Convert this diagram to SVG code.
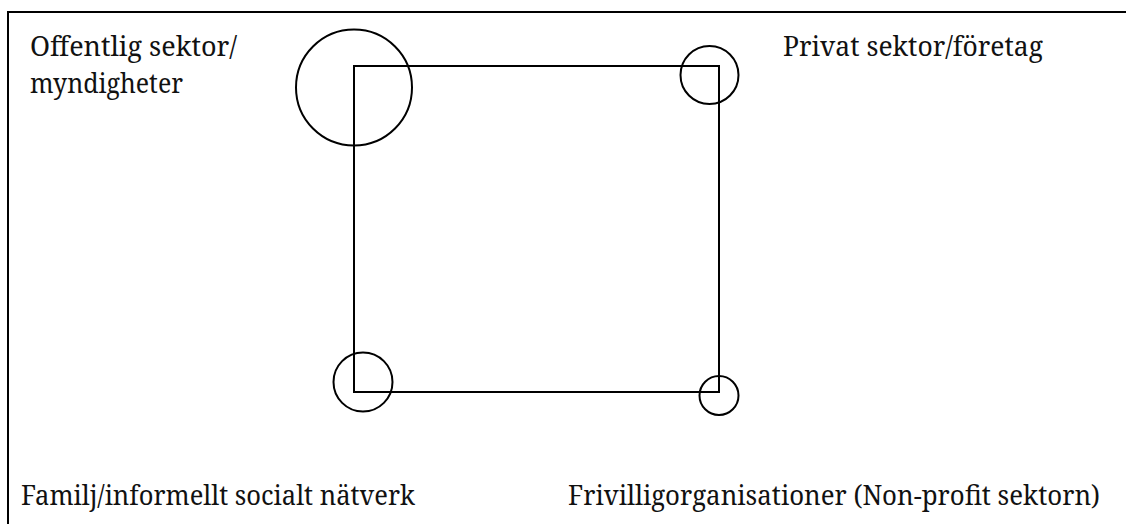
<svg xmlns="http://www.w3.org/2000/svg" width="1126" height="524" viewBox="0 0 1126 524">
<style>
.ln{fill:none;stroke:#000;stroke-width:2}
text{font-family:"Noto Serif","DejaVu Serif","Liberation Serif",serif;font-size:27px;fill:#111}
</style>
<rect width="1126" height="524" fill="#fff"/>
<path class="ln" d="M8,524 V12 H1126"/>
<g id="connectors">
<rect class="ln" x="354" y="66" width="365" height="326"/>
</g>
<g id="offentlig">
<circle class="ln" cx="354" cy="87.5" r="58"/>
<text x="30" y="56" textLength="207" lengthAdjust="spacingAndGlyphs">Offentlig sektor/</text>
<text x="30" y="93" textLength="153" lengthAdjust="spacingAndGlyphs">myndigheter</text>
</g>
<g id="privat">
<circle class="ln" cx="709.5" cy="75" r="29"/>
<text x="783" y="56" textLength="260" lengthAdjust="spacingAndGlyphs">Privat sektor/företag</text>
</g>
<g id="familj">
<circle class="ln" cx="363" cy="382" r="29.5"/>
<text x="21" y="505" textLength="394" lengthAdjust="spacingAndGlyphs">Familj/informellt socialt nätverk</text>
</g>
<g id="frivillig">
<circle class="ln" cx="719" cy="395.5" r="19.5"/>
<text x="568" y="505" textLength="532" lengthAdjust="spacingAndGlyphs">Frivilligorganisationer (Non-profit sektorn)</text>
</g>
</svg>
